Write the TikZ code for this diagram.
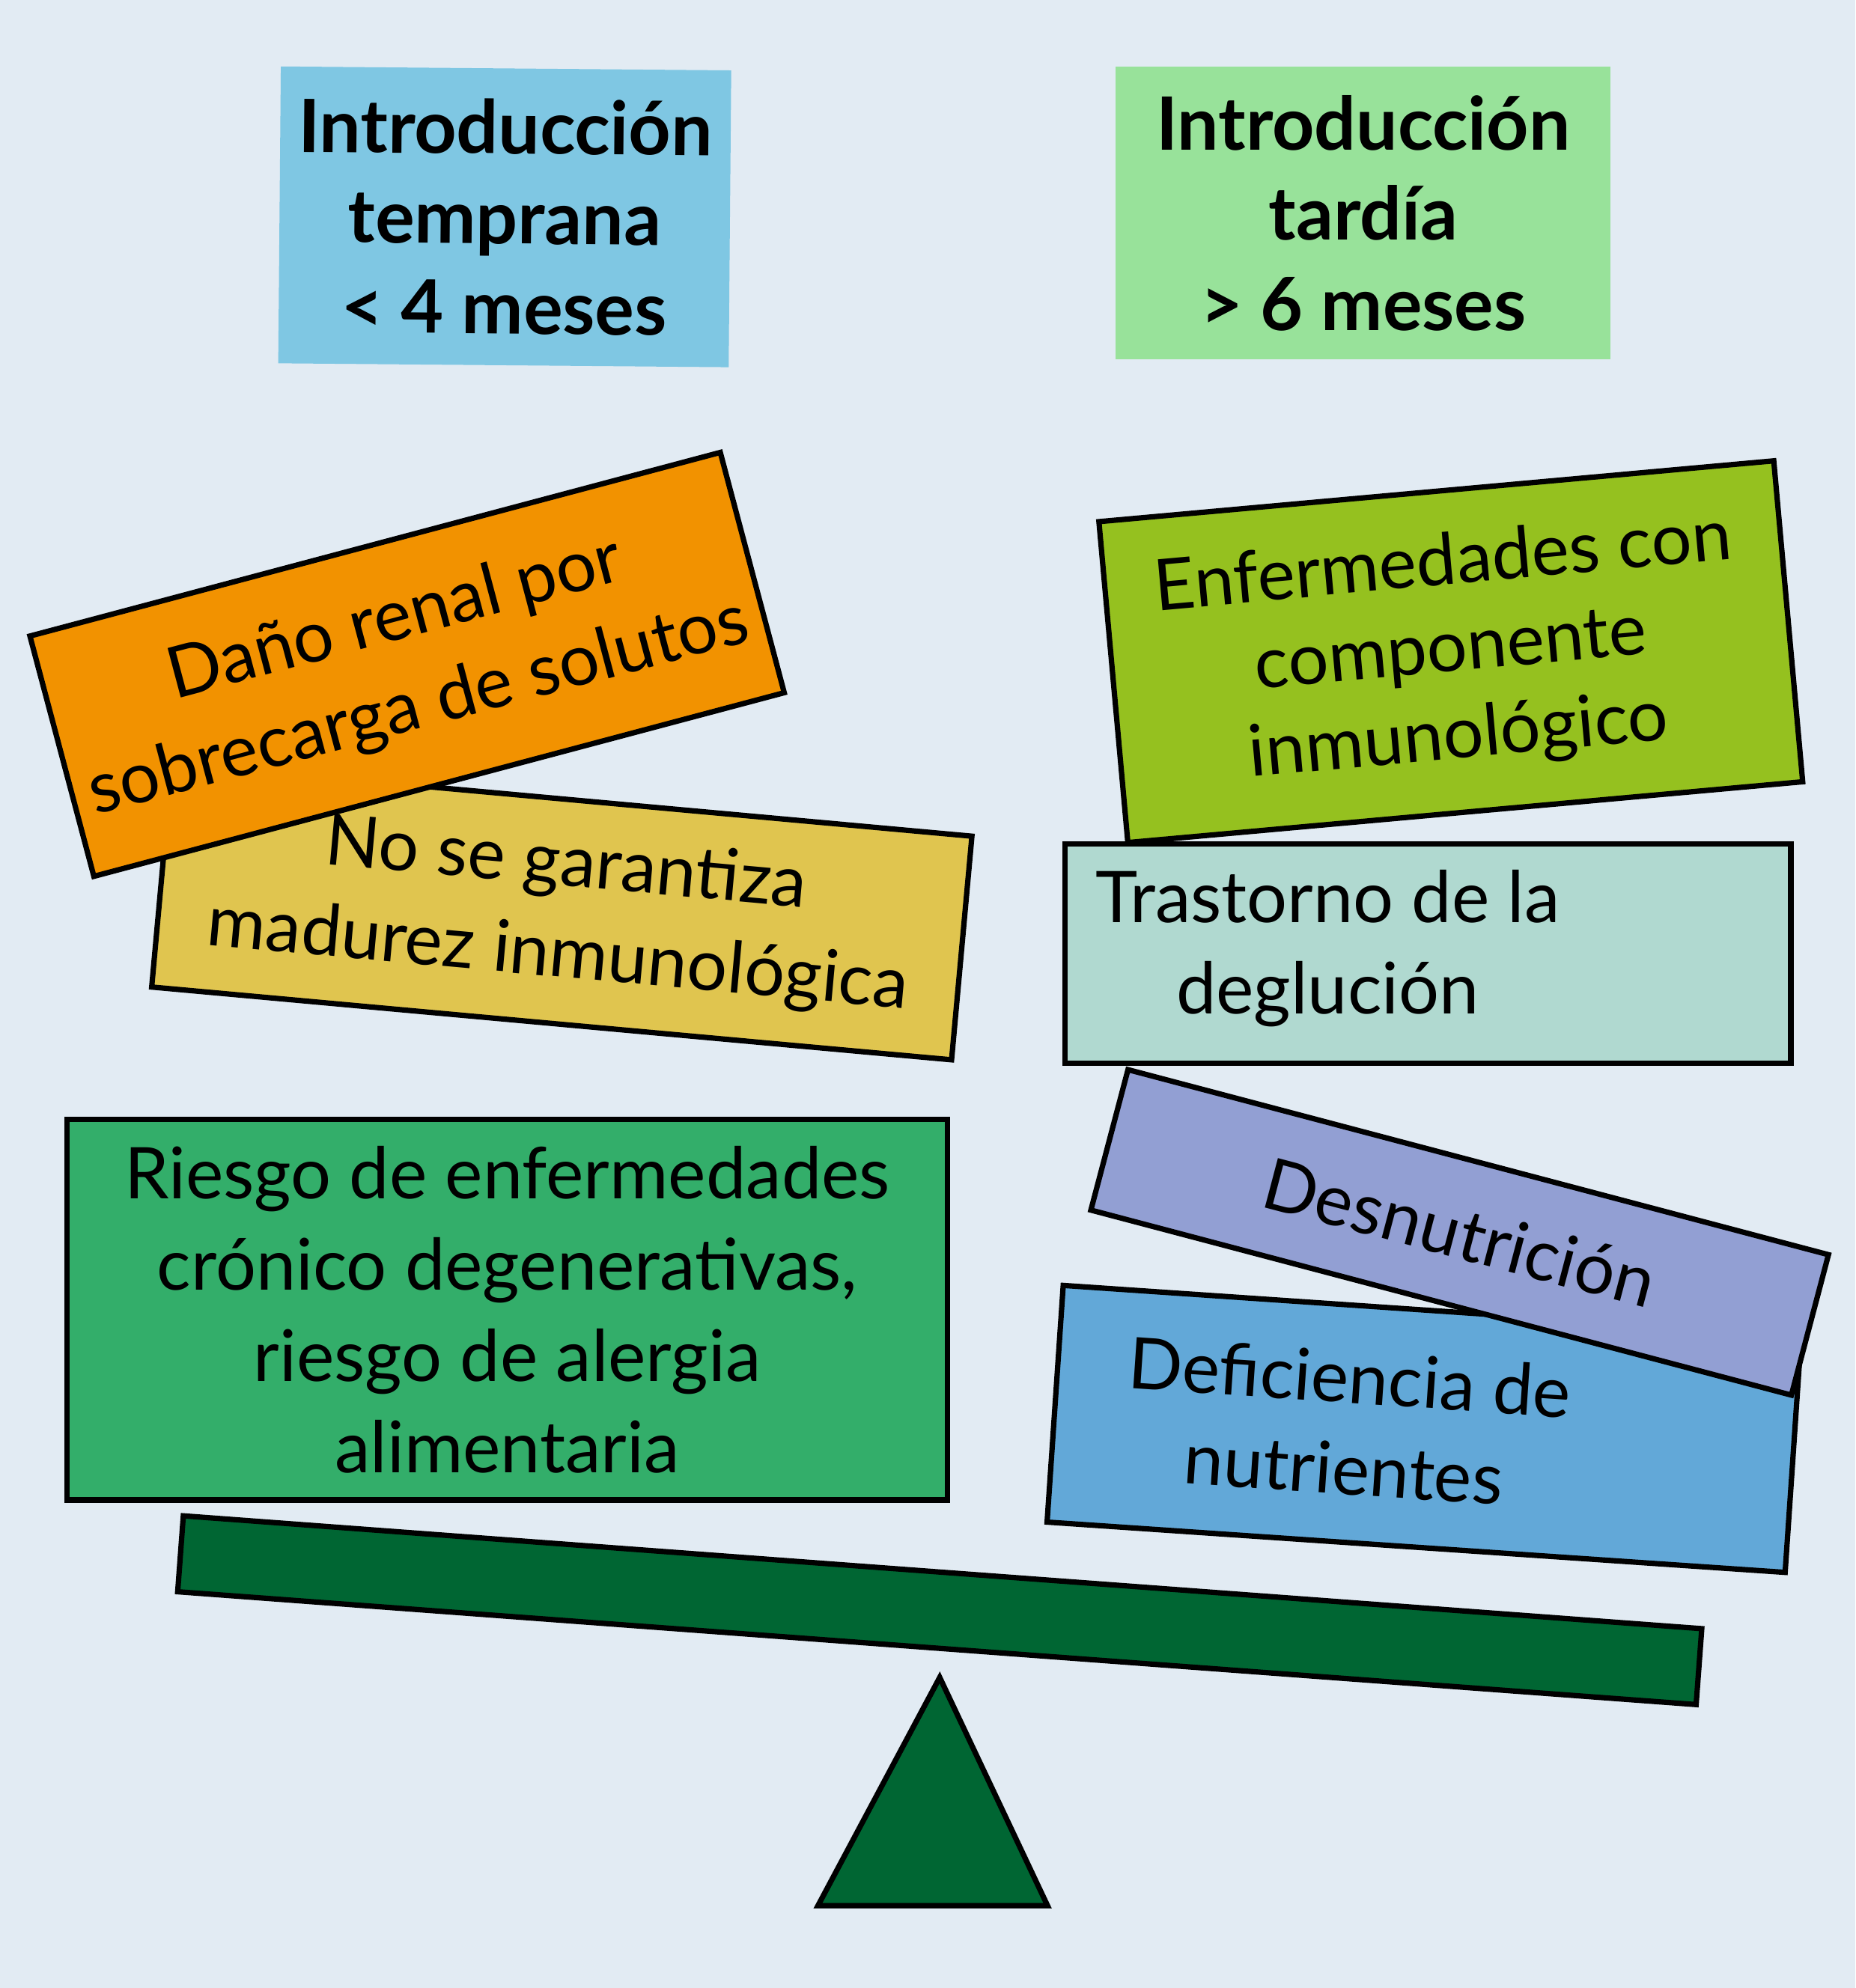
\documentclass[tikz,border=0pt]{standalone}
\usepackage{fontspec}
\setmainfont{Lato}
\usetikzlibrary{positioning}

\definecolor{bgcol}{RGB}{226,235,243}
\definecolor{earlyblue}{RGB}{127,199,227}
\definecolor{lategreen}{RGB}{152,226,154}
\definecolor{renalorange}{RGB}{242,146,0}
\definecolor{immyellow}{RGB}{224,197,79}
\definecolor{chronicgreen}{RGB}{51,174,106}
\definecolor{beamgreen}{RGB}{0,102,51}
\definecolor{limegreen}{RGB}{149,193,31}
\definecolor{swallowteal}{RGB}{176,217,208}
\definecolor{malnpurple}{RGB}{146,159,211}
\definecolor{nutrblue}{RGB}{98,168,216}

\begin{document}
\begin{tikzpicture}[
    x=0.01cm, y=-0.01cm,                    % units = pixels of the layout
    titlebox/.style={inner sep=0pt, align=center, font=\bfseries\fontsize{16.5}{20.2}\selectfont},
    card/.style={draw=black, line width=1.2pt, inner sep=0pt, align=center,
                 font=\fontsize{16}{20.5}\selectfont},
    cardtxt/.style={inner sep=0pt, align=center, font=\fontsize{16}{20.5}\selectfont},
    beam/.style={draw=black, line width=1.2pt, fill=beamgreen, inner sep=0pt},
  ]

  % ---------- page ----------
  \fill[bgcol] (0,0) rectangle (1463,1568);
  \useasboundingbox (0,0) rectangle (1463,1568);

  % ---------- headers ----------
  \node[titlebox, fill=earlyblue, rotate=-0.5, minimum width=3.55cm, minimum height=2.34cm]
    (early) at (398,171) {Introducción\\temprana\\< 4 meses};
  \node[titlebox, fill=lategreen, minimum width=3.90cm, minimum height=2.31cm]
    (late) at (1075,168) {Introducción\\tardía\\> 6 meses};

  % ---------- left pan: early introduction ----------
  \node[card, fill=immyellow, rotate=-5.2, minimum width=6.33cm, minimum height=1.77cm]
    (immature) at (443,719) {No se garantiza\\madurez inmunológica};
  \node[card, fill=renalorange, rotate=14.9, minimum width=5.63cm, minimum height=1.96cm]
    (renal) at (321,524) {Daño renal por\\sobrecarga de solutos};
  \node[card, fill=chronicgreen, minimum width=6.94cm, minimum height=3.00cm]
    (chronic) at (400,1033) {Riesgo de enfermedades\\crónico degenerativas,\\riesgo de alergia\\alimentaria};

  % ---------- right pan: late introduction ----------
  \node[card, fill=nutrblue, rotate=-3.9, minimum width=5.83cm, minimum height=1.87cm]
    (deficiency) at (1123,1127) {};
  \node[cardtxt, rotate=-3.9] (deficiencytxt) at (1062,1122) {Deficiencia de\\nutrientes};
  \node[card, fill=malnpurple, rotate=-14.8, minimum width=5.71cm, minimum height=1.145cm]
    (malnutrition) at (1151,972) {Desnutrición};
  \node[card, fill=swallowteal, minimum width=5.72cm, minimum height=1.73cm]
    (swallow) at (1126,752) {};
  \node[cardtxt] (swallowtxt) at (1047,748) {Trastorno de la\\deglución};
  \node[card, fill=limegreen, rotate=5.15, minimum width=5.34cm, minimum height=2.54cm,
        font=\fontsize{16}{19.5}\selectfont]
    (immune) at (1144,514) {Enfermedades con\\componente\\inmunológico};

  % ---------- balance ----------
  \node[beam, rotate=-4.25, minimum width=12.0cm, minimum height=0.60cm] (lever) at (741,1270) {};
  \filldraw[fill=beamgreen, draw=black, line width=1.2pt, line join=miter]
    (741,1323) -- (826,1503) -- (645,1503) -- cycle;

\end{tikzpicture}
\end{document}
